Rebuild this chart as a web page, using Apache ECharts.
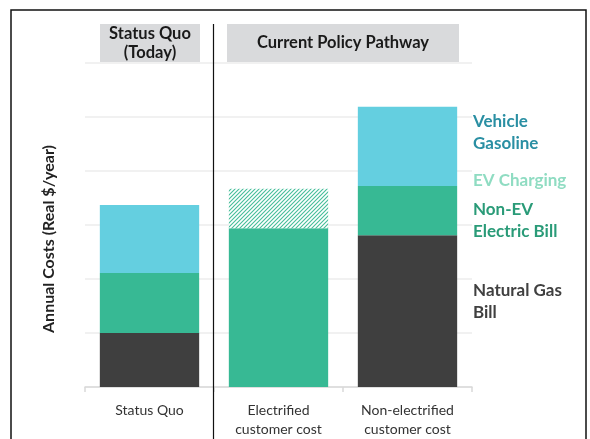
<!DOCTYPE html>
<html><head><meta charset="utf-8">
<script src="https://cdn.jsdelivr.net/npm/echarts@6/dist/echarts.min.js"></script>
<style>html,body{margin:0;padding:0;background:#fff}#c{width:590px;height:439px}</style>
</head><body><div id="c"></div>
<script>
const categories = ['Status Quo', 'Electrified\ncustomer cost', 'Non-electrified\ncustomer cost'];
const naturalGas = [1.0, 0, 2.81];
const nonEvElectric = [1.11, 2.94, 0.91];
const evCharging = [0, 0.73, 0];
const vehicleGasoline = [1.26, 0, 1.47];
const yTicks = [0, 1, 2, 3, 4, 5, 6];

const FONT = 'Lato';
const hatch = document.createElement('canvas');
hatch.width = 4; hatch.height = 4;
(function(){
  const g = hatch.getContext('2d');
  g.fillStyle = '#ffffff'; g.fillRect(0,0,4,4);
  g.strokeStyle = '#45bd99'; g.lineWidth = 1.1;
  g.beginPath();
  g.moveTo(-1,5); g.lineTo(5,-1);
  g.moveTo(-3,3); g.lineTo(3,-3);
  g.moveTo(1,7); g.lineTo(7,1);
  g.stroke();
})();

const chart = echarts.init(document.getElementById('c'));
chart.setOption({
  animation: false,
  grid: { left: 85, right: 118, top: 63, bottom: 52 },
  xAxis: {
    type: 'category', data: categories,
    axisLine: { lineStyle: { color: '#d9d9d9', width: 1.5 } },
    axisTick: { show: true, length: 5, lineStyle: { color: '#d9d9d9', width: 1.5 } },
    axisLabel: { color: '#333', fontFamily: FONT, fontSize: 14, lineHeight: 19, margin: 14 }
  },
  yAxis: {
    type: 'value', min: yTicks[0], max: yTicks[yTicks.length-1], interval: 1,
    axisLabel: { show: false }, axisLine: { show: false }, axisTick: { show: false },
    splitLine: { lineStyle: { color: '#ececec', width: 1.5 } }
  },
  series: [
    { name: 'Natural Gas Bill', type: 'bar', stack: 's', data: naturalGas, barCategoryGap: '23%', itemStyle: { color: '#3f3f3f' } },
    { name: 'Non-EV Electric Bill', type: 'bar', stack: 's', data: nonEvElectric, itemStyle: { color: '#37b994' } },
    { name: 'EV Charging', type: 'bar', stack: 's', data: evCharging, itemStyle: { color: { image: hatch, repetition: 'repeat' } } },
    { name: 'Vehicle Gasoline', type: 'bar', stack: 's', data: vehicleGasoline, itemStyle: { color: '#64cfe0' } }
  ],
  graphic: [
    { type: 'rect', shape: { x: 11, y: 10, width: 575, height: 440 }, style: { fill: 'none', stroke: '#111', lineWidth: 1.5 }, z: 100 },
    { type: 'rect', shape: { x: 100, y: 24, width: 100, height: 38 }, style: { fill: '#d9dadc' } },
    { type: 'rect', shape: { x: 227, y: 24, width: 232, height: 38 }, style: { fill: '#d9dadc' } },
    { type: 'text', x: 150, y: 43, style: { text: 'Status Quo\n(Today)', fill: '#1a1a1a', font: 'bold 16.5px Lato', align: 'center', verticalAlign: 'middle', lineHeight: 19 } },
    { type: 'text', x: 343, y: 43, style: { text: 'Current Policy Pathway', fill: '#1a1a1a', font: 'bold 16.5px Lato', align: 'center', verticalAlign: 'middle' } },
    { type: 'line', shape: { x1: 213.5, y1: 24, x2: 213.5, y2: 439 }, style: { stroke: '#111', lineWidth: 1.2 }, z: 50 },
    { type: 'text', x: 49, y: 239, rotation: Math.PI / 2, style: { text: 'Annual Costs (Real $/year)', fill: '#222', font: 'bold 16px Lato', align: 'center', verticalAlign: 'middle' } },
    { type: 'text', x: 473, y: 133, style: { text: 'Vehicle\nGasoline', fill: '#2a8fa3', font: 'bold 17px Lato', verticalAlign: 'middle', lineHeight: 22 } },
    { type: 'text', x: 473, y: 181, style: { text: 'EV Charging', fill: '#8fdcc2', font: 'bold 17px Lato', verticalAlign: 'middle' } },
    { type: 'text', x: 473, y: 221, style: { text: 'Non-EV\nElectric Bill', fill: '#2a9b78', font: 'bold 17px Lato', verticalAlign: 'middle', lineHeight: 22 } },
    { type: 'text', x: 473, y: 302, style: { text: 'Natural Gas\nBill', fill: '#404040', font: 'bold 17px Lato', verticalAlign: 'middle', lineHeight: 22 } }
  ]
});
</script></body></html>
